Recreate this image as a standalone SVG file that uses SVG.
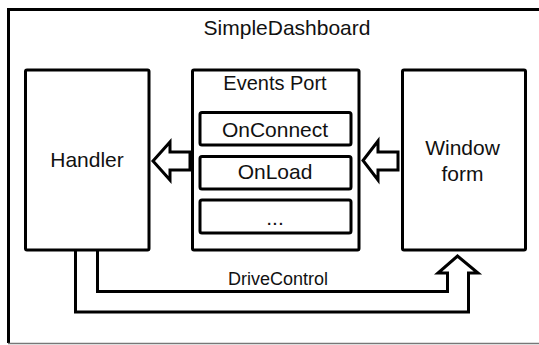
<svg xmlns="http://www.w3.org/2000/svg" width="539" height="345" viewBox="0 0 539 345">
  <style>
    .box { fill: #ffffff; stroke: #000000; stroke-width: 3; }
    .lbl { font-family: "Liberation Sans", "Noto Sans", Arial, sans-serif; font-size: 21px; fill: #111111; text-anchor: middle; }
    .small { font-size: 18px; }
    .conn { fill: #ffffff; stroke: #000000; stroke-width: 3; stroke-linejoin: miter; }
    .line { fill: none; stroke: #000000; stroke-width: 3; stroke-linejoin: miter; }
  </style>
  <rect width="539" height="345" fill="#ffffff"/>

  <!-- application frame -->
  <g id="frame">
    <path class="line" d="M 8.5 343 V 9.5 H 541"/>
    <line x1="8" y1="343.5" x2="539" y2="343.5" stroke="#777777" stroke-width="1.5"/>
    <text class="lbl" x="287" y="35">SimpleDashboard</text>
  </g>

  <!-- handler -->
  <g id="handler">
    <rect class="box" x="25.5" y="70" width="123.5" height="180" rx="1.5"/>
    <text class="lbl" x="87" y="167">Handler</text>
  </g>

  <!-- events port with its entries -->
  <g id="events-port">
    <rect class="box" x="192.5" y="70" width="166.5" height="180" rx="1.5"/>
    <text class="lbl" x="275" y="90" style="font-size:20px">Events Port</text>
  </g>
  <g id="on-connect">
    <rect class="box" x="200" y="112.5" width="151" height="32.5" rx="2"/>
    <text class="lbl" x="275" y="136.5">OnConnect</text>
  </g>
  <g id="on-load">
    <rect class="box" x="200" y="156.5" width="151" height="32.5" rx="2"/>
    <text class="lbl" x="275" y="179">OnLoad</text>
  </g>
  <g id="more-events">
    <rect class="box" x="200" y="200" width="151" height="33" rx="2"/>
    <text class="lbl" x="275" y="224.5">...</text>
  </g>

  <!-- window form -->
  <g id="window-form">
    <rect class="box" x="402.5" y="70" width="123" height="180" rx="1.5"/>
    <text class="lbl" x="462.5" y="155">Window</text>
    <text class="lbl" x="462.5" y="180.5">form</text>
  </g>

  <!-- connectors -->
  <g id="connectors">
    <!-- events port to handler -->
    <polygon class="conn" points="190,152 170,152 170,142 153,161 170,180 170,170 190,170"/>
    <!-- window form to events port -->
    <polygon class="conn" points="398,152 378,152 378,141 363,160.5 378,180 378,170 398,170"/>
    <!-- drive control from handler to window form -->
    <path class="line" d="M 97.5 250 V 291.5 H 447.5 V 273 H 438 L 457.5 256 L 478 273 H 468.5 V 312 H 75.5 V 250"/>
    <text class="lbl small" x="278" y="285">DriveControl</text>
  </g>
</svg>
